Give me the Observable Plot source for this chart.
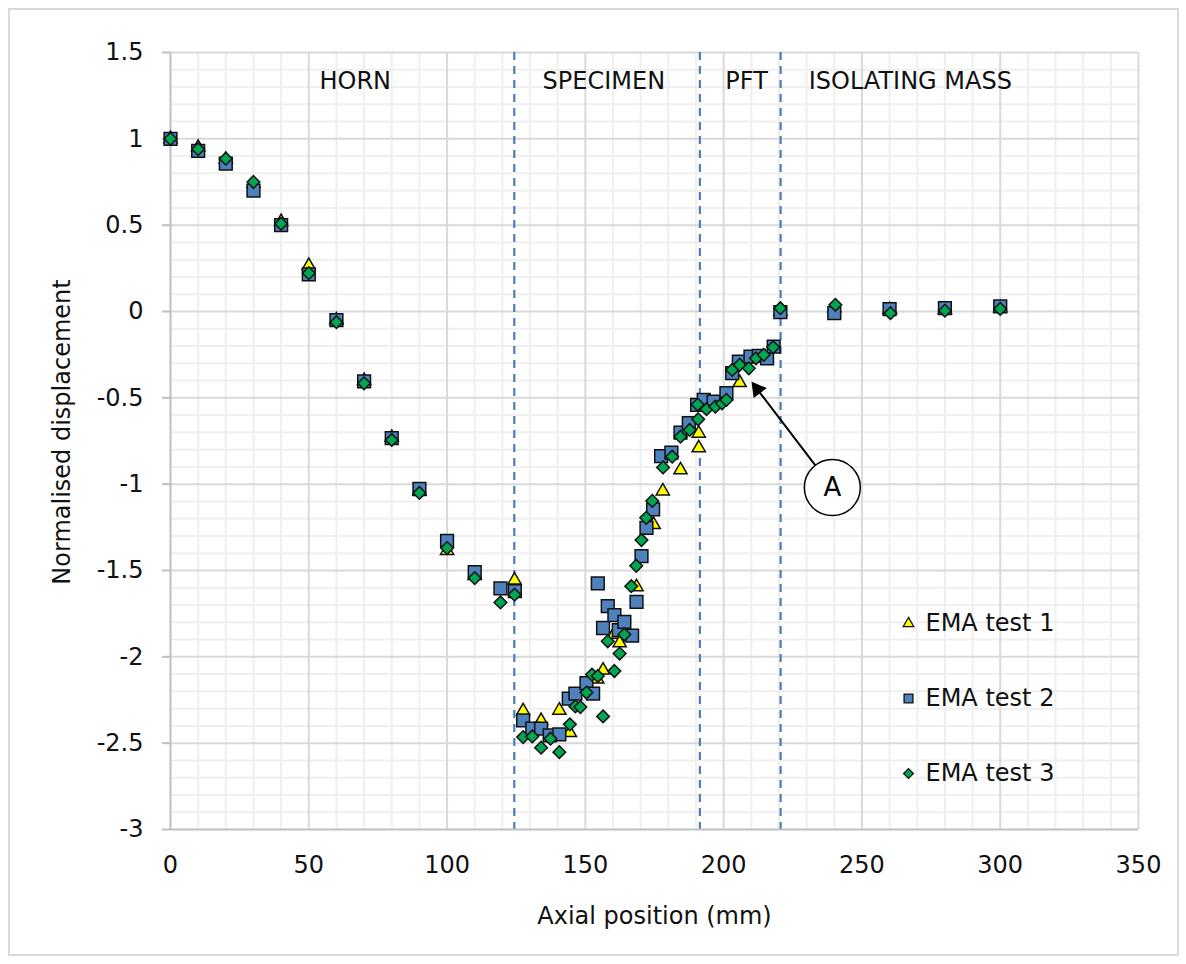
<!DOCTYPE html>
<html>
<head>
<meta charset="utf-8">
<script src="https://cdn.jsdelivr.net/npm/d3@7"></script>
<script src="https://cdn.jsdelivr.net/npm/@observablehq/plot@0.6"></script>
<style>
  html, body { margin: 0; padding: 0; background: #fff; }
  #wrap { position: relative; width: 1186px; height: 964px; }
  #border { position: absolute; left: 8px; top: 8px; width: 1167px; height: 944px; border: 2px solid #d9d9d9; pointer-events: none; }
  #wrap svg g[aria-label="y-axis tick"] { stroke: #bfbfbf; stroke-width: 2px; }
</style>
</head>
<body>
<div id="wrap"><div id="border"></div></div>
<script>
// ---------- data ----------
const seriesNames = ["EMA test 1", "EMA test 2", "EMA test 3"];

const test1X = [0,10,20,30,40,50,60,70,80,90,100,110,124.4,127.5,134,140.6,144.4,154.3,156.4,160.3,162.4,168.5,174.7,178,184.4,191,191,205.8,220.5,240,260,280,300];
const test1Y = [1.0,0.95,0.88,0.74,0.52,0.265,-0.05,-0.40,-0.73,-1.04,-1.385,-1.53,-1.556,-2.313,-2.37,-2.31,-2.44,-2.13,-2.078,-1.87,-1.92,-1.595,-1.235,-1.04,-0.918,-0.79,-0.706,-0.413,0.0,0.02,0.01,0.01,0.02];

const test2X = [0,10,20,30,40,50,60,70,80,90,100,110,119.3,124.5,127.5,130.8,134,137.1,140.6,144,146.4,150.4,152.8,154.5,156.4,158.1,160.5,162.1,164.1,166.9,168.5,170.3,172.1,174.5,177.4,181.1,184.4,187.4,190.4,192.8,196.4,201,203.1,205.5,209.7,212.7,215.7,218.1,220.5,240,260,280,300];
const test2Y = [1.0,0.93,0.856,0.70,0.50,0.215,-0.05,-0.405,-0.733,-1.028,-1.328,-1.51,-1.604,-1.62,-2.368,-2.416,-2.416,-2.455,-2.449,-2.242,-2.213,-2.152,-2.213,-1.575,-1.833,-1.707,-1.759,-1.846,-1.798,-1.877,-1.682,-1.417,-1.253,-1.146,-0.837,-0.818,-0.702,-0.647,-0.541,-0.512,-0.522,-0.473,-0.357,-0.29,-0.261,-0.257,-0.271,-0.203,-0.004,-0.01,0.014,0.019,0.029];

const test3X = [0,10,20,30,40,50,60,70,80,90,100,110,119.3,124.4,127.5,130.8,134,137.4,140.6,144.4,146.4,148.2,150.4,152.4,154.5,156.4,158.1,160.5,162.4,164.1,166.6,168.4,170.3,172,174.2,178.1,181.4,184.4,187.7,190.8,190.6,193.8,197,199.4,201,203.1,205.8,209.1,211.7,214.5,217.9,220.5,240.4,260.3,280,300];
const test3Y = [1.0,0.94,0.885,0.75,0.508,0.222,-0.062,-0.416,-0.744,-1.051,-1.37,-1.544,-1.685,-1.64,-2.465,-2.461,-2.526,-2.474,-2.552,-2.391,-2.287,-2.291,-2.207,-2.103,-2.111,-2.345,-1.91,-2.082,-1.981,-1.871,-1.591,-1.473,-1.324,-1.195,-1.097,-0.903,-0.841,-0.725,-0.686,-0.624,-0.539,-0.566,-0.551,-0.532,-0.512,-0.338,-0.309,-0.329,-0.271,-0.251,-0.207,0.019,0.039,-0.01,0.005,0.015];

const regionBounds = [124.3, 191.4, 220.6];
const regionNames = ["HORN", "SPECIMEN", "PFT", "ISOLATING MASS"];
const regionLabelX = [66.8, 156.7, 208.3, 267.5];
const regionLabelY = 1.335;

const xTicks = [0, 50, 100, 150, 200, 250, 300, 350];
const yTicks = [-3, -2.5, -2, -1.5, -1, -0.5, 0, 0.5, 1, 1.5];
const xDomain = [0, 350];
const yDomain = [-3, 1.5];

const annLabel = ["A"];
const annX = [239.3], annY = [-1.02];
const annTipX = [210.3], annTipY = [-0.411];

// ---------- layout / style ----------
const W = 1186, H = 964;
const M = {left: 170, right: 48, top: 52, bottom: 135};
const styles = [
  {symbol: "triangle", fill: "#ffff00", r: 4.9, lr: 3.9},
  {symbol: "square",   fill: "#4f81bd", r: 7.2, lr: 5.0},
  {symbol: "diamond2", fill: "#00a651", r: 5.7, lr: 4.4}
];
const legendDy = [571, 646, 721];
const FONT = 24;

const seriesX = [test1X, test2X, test3X];
const seriesY = [test1Y, test2Y, test3Y];
const seriesData = seriesX.map((xs, s) => xs.map((x, i) => ({x, y: seriesY[s][i]})));

const minorX = d3.range(0, 351, 10).filter(v => v % 50 !== 0);
const minorY = d3.range(-30, 16).filter(v => v % 5 !== 0).map(v => v / 10);

// arrow head orientation (screen space)
const kx = (W - M.left - M.right) / (xDomain[1] - xDomain[0]);
const ky = (H - M.top - M.bottom) / (yDomain[1] - yDomain[0]);
const vx = (annTipX[0] - annX[0]) * kx, vy = -(annTipY[0] - annY[0]) * ky;
const vlen = Math.hypot(vx, vy);
const ux = vx / vlen, uy = vy / vlen;
const headAngle = Math.atan2(ux, -uy) * 180 / Math.PI;
const headR = 5.5;
const back = 1.555 * headR;

const ann = annLabel.map((t, i) => ({t, x: annX[i], y: annY[i], tx: annTipX[i], ty: annTipY[i]}));

const marks = [
  Plot.ruleX(minorX, {stroke: "#efefef", strokeWidth: 2}),
  Plot.ruleY(minorY, {stroke: "#efefef", strokeWidth: 2}),
  Plot.ruleX(xTicks.filter(v => v !== 0), {stroke: "#d9d9d9", strokeWidth: 2}),
  Plot.ruleY(yTicks.filter(v => v !== -3), {stroke: "#d9d9d9", strokeWidth: 2}),
  Plot.ruleX(regionBounds, {stroke: "#4a7ebb", strokeWidth: 2.2, strokeDasharray: "8,6"}),
  Plot.ruleX([0], {stroke: "#bfbfbf", strokeWidth: 2}),
  Plot.ruleY([-3], {stroke: "#bfbfbf", strokeWidth: 2}),
];
seriesData.forEach((data, s) => {
  marks.push(Plot.dot(data, {x: "x", y: "y", symbol: styles[s].symbol, r: styles[s].r,
    fill: styles[s].fill, stroke: "#111", strokeWidth: 1.5}));
});
marks.push(Plot.text(regionNames, {x: (d, i) => regionLabelX[i], y: regionLabelY, fontSize: FONT, fill: "#111"}));
seriesNames.forEach((name, s) => {
  marks.push(Plot.dot([name], {frameAnchor: "top-left", dx: 738, dy: legendDy[s], symbol: styles[s].symbol,
    r: styles[s].lr, fill: styles[s].fill, stroke: "#111", strokeWidth: 1.3}));
  marks.push(Plot.text([name], {frameAnchor: "top-left", dx: 755, dy: legendDy[s], textAnchor: "start", lineAnchor: "middle", fontSize: FONT, fill: "#111"}));
});
marks.push(
  Plot.arrow(ann, {x1: "x", y1: "y", x2: "tx", y2: "ty", insetStart: 28, insetEnd: 3, headLength: 0, stroke: "#000", strokeWidth: 2}),
  Plot.dot(ann, {x: "tx", y: "ty", symbol: "triangle", r: headR, rotate: headAngle, dx: -back * ux, dy: -back * uy, fill: "#000", stroke: "#000", strokeWidth: 1}),
  Plot.dot(ann, {x: "x", y: "y", r: 28, fill: "#fff", stroke: "#000", strokeWidth: 1.5}),
  Plot.text(ann, {x: "x", y: "y", text: "t", fontSize: FONT + 2, fill: "#000"}),
  Plot.text(["Axial position (mm)"], {frameAnchor: "bottom", dy: 87, textAnchor: "middle", lineAnchor: "middle", fontSize: FONT, fill: "#111"}),
  Plot.text(["Normalised displacement"], {frameAnchor: "left", dx: -108, dy: -9, rotate: -90, textAnchor: "middle", lineAnchor: "middle", fontSize: FONT, fill: "#111"})
);

const chart = Plot.plot({
  width: W, height: H,
  marginLeft: M.left, marginRight: M.right, marginTop: M.top, marginBottom: M.bottom,
  style: {fontFamily: '"DejaVu Sans", sans-serif', fontSize: FONT + "px", color: "#111", background: "transparent", overflow: "visible"},
  x: {domain: xDomain, ticks: xTicks, tickSize: 0, tickPadding: 26, tickFormat: d => String(d), label: null},
  y: {domain: yDomain, ticks: yTicks, tickSize: 8, tickPadding: 19, tickFormat: d => String(d), label: null},
  marks
});
document.getElementById("wrap").insertBefore(chart, document.getElementById("border"));
</script>
</body>
</html>
